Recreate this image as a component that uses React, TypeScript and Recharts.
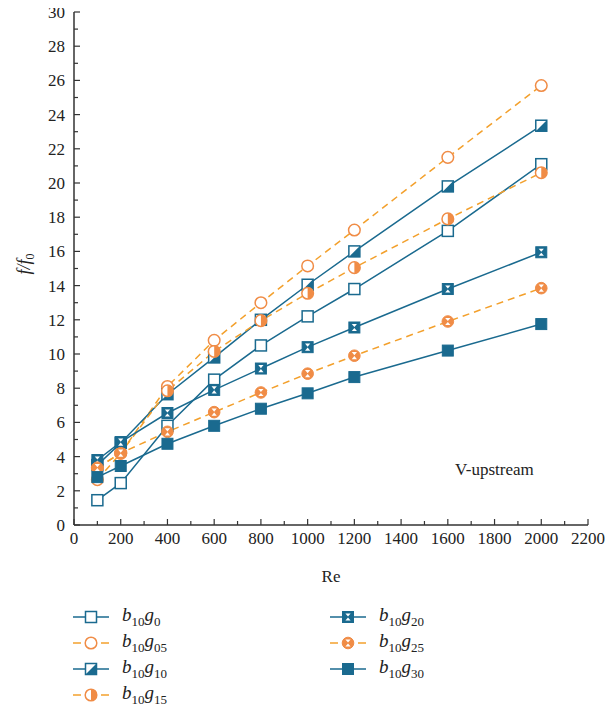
import React from "react";
import { LineChart, Line, XAxis, YAxis } from "recharts";

const RE = [100, 200, 400, 600, 800, 1000, 1200, 1600, 2000];

const B10G0 = [1.45, 2.45, 5.8, 8.5, 10.5, 12.2, 13.8, 17.2, 21.1];
const B10G05 = [2.65, 4.2, 8.1, 10.8, 13.0, 15.15, 17.25, 21.5, 25.7];
const B10G10 = [3.5, 4.8, 7.65, 9.8, 12.0, 14.05, 16.0, 19.8, 23.35];
const B10G15 = [3.35, 4.2, 7.85, 10.15, 11.95, 13.55, 15.05, 17.9, 20.6];
const B10G20 = [3.8, 4.85, 6.55, 7.9, 9.15, 10.4, 11.55, 13.8, 15.95];
const B10G25 = [3.35, 4.2, 5.45, 6.6, 7.75, 8.85, 9.9, 11.9, 13.85];
const B10G30 = [2.8, 3.45, 4.75, 5.8, 6.8, 7.7, 8.65, 10.2, 11.75];

const X_TICKS = [0, 100, 200, 300, 400, 500, 600, 700, 800, 900, 1000, 1100, 1200, 1300, 1400, 1500, 1600, 1700, 1800, 1900, 2000, 2100, 2200];
const Y_TICKS = [0, 1, 2, 3, 4, 5, 6, 7, 8, 9, 10, 11, 12, 13, 14, 15, 16, 17, 18, 19, 20, 21, 22, 23, 24, 25, 26, 27, 28, 29, 30];

const BLUE = "#1a6a8f";
const ORANGE_LINE = "#f3a02c";
const ORANGE_MARK = "#f08c46";
const AXIS = "#333";
const FONT = "'Liberation Serif', 'DejaVu Serif', serif";

type Kind = "openSq" | "openCirc" | "halfSq" | "halfCirc" | "hourSq" | "hourCirc" | "fillSq";

const SERIES: { key: string; sub: string; kind: Kind; values: number[]; dashed: boolean }[] = [
  { key: "g0", sub: "0", kind: "openSq", values: B10G0, dashed: false },
  { key: "g05", sub: "05", kind: "openCirc", values: B10G05, dashed: true },
  { key: "g10", sub: "10", kind: "halfSq", values: B10G10, dashed: false },
  { key: "g15", sub: "15", kind: "halfCirc", values: B10G15, dashed: true },
  { key: "g20", sub: "20", kind: "hourSq", values: B10G20, dashed: false },
  { key: "g25", sub: "25", kind: "hourCirc", values: B10G25, dashed: true },
  { key: "g30", sub: "30", kind: "fillSq", values: B10G30, dashed: false },
];

const data = RE.map((re, i) => {
  const row: Record<string, number> = { re };
  SERIES.forEach((s) => (row[s.key] = s.values[i]));
  return row;
});

function Marker({ kind, cx, cy }: { kind: Kind; cx: number; cy: number }) {
  const s = 11;
  const x = cx - s / 2;
  const y = cy - s / 2;
  const r = 5.8;
  const hour = (
    <>
      <polygon points={`${cx - 2.6},${cy - 3.6} ${cx + 2.6},${cy - 3.6} ${cx},${cy - 0.4}`} fill="#fff" />
      <polygon points={`${cx - 2.6},${cy + 3.6} ${cx + 2.6},${cy + 3.6} ${cx},${cy + 0.4}`} fill="#fff" />
    </>
  );
  switch (kind) {
    case "openSq":
      return <rect x={x} y={y} width={s} height={s} fill="#fff" stroke={BLUE} strokeWidth={1.5} />;
    case "fillSq":
      return <rect x={x} y={y} width={s} height={s} fill={BLUE} stroke={BLUE} strokeWidth={1} />;
    case "halfSq":
      return (
        <g>
          <rect x={x} y={y} width={s} height={s} fill="#fff" stroke={BLUE} strokeWidth={1.5} />
          <polygon points={`${x + s},${y} ${x + s},${y + s} ${x},${y + s}`} fill={BLUE} />
        </g>
      );
    case "hourSq":
      return (
        <g>
          <rect x={x} y={y} width={s} height={s} fill={BLUE} stroke={BLUE} strokeWidth={1} />
          {hour}
        </g>
      );
    case "openCirc":
      return <circle cx={cx} cy={cy} r={r} fill="#fff" stroke={ORANGE_MARK} strokeWidth={1.5} />;
    case "halfCirc":
      return (
        <g>
          <circle cx={cx} cy={cy} r={r} fill="#fff" stroke={ORANGE_MARK} strokeWidth={1.5} />
          <path d={`M${cx},${cy - r} A${r},${r} 0 0 1 ${cx},${cy + r} Z`} fill={ORANGE_MARK} />
        </g>
      );
    case "hourCirc":
      return (
        <g>
          <circle cx={cx} cy={cy} r={r} fill={ORANGE_MARK} stroke={ORANGE_MARK} strokeWidth={1} />
          {hour}
        </g>
      );
  }
}

function XTick(props: any) {
  const { x, y, payload } = props;
  const major = payload.value % 200 === 0;
  return (
    <g>
      <line x1={x} y1={y} x2={x} y2={y - (major ? 6 : 4)} stroke={AXIS} strokeWidth={1.2} />
      {major && (
        <text x={x} y={y + 19} textAnchor="middle" fontSize={17} style={{ fontFamily: FONT }} fill="#222">
          {payload.value}
        </text>
      )}
    </g>
  );
}

function YTick(props: any) {
  const { x, y, payload } = props;
  const major = payload.value % 2 === 0;
  return (
    <g>
      <line x1={x} y1={y} x2={x + (major ? 6 : 4)} y2={y} stroke={AXIS} strokeWidth={1.2} />
      {major && (
        <text x={x - 9} y={y + 6} textAnchor="end" fontSize={17} style={{ fontFamily: FONT }} fill="#222">
          {payload.value}
        </text>
      )}
    </g>
  );
}

function LegendItem({ s }: { s: (typeof SERIES)[number] }) {
  const color = s.dashed ? ORANGE_LINE : BLUE;
  return (
    <div style={{ display: "flex", alignItems: "center", height: 26 }}>
      <svg width={40} height={16}>
        {s.dashed ? (
          <>
            <line x1={2} y1={8} x2={10} y2={8} stroke={color} strokeWidth={1.5} />
            <line x1={30} y1={8} x2={38} y2={8} stroke={color} strokeWidth={1.5} />
          </>
        ) : (
          <line x1={2} y1={8} x2={38} y2={8} stroke={color} strokeWidth={1.5} />
        )}
        <Marker kind={s.kind} cx={20} cy={8} />
      </svg>
      <span style={{ marginLeft: 11, fontFamily: FONT, fontStyle: "italic", fontSize: 19, color: "#222" }}>
        b<sub style={{ fontStyle: "normal", fontSize: 13 }}>10</sub>g<sub style={{ fontStyle: "normal", fontSize: 13 }}>{s.sub}</sub>
      </span>
    </div>
  );
}

export default function App() {
  return (
    <div style={{ position: "relative", width: 600, height: 706, marginTop: -6, fontFamily: FONT }}>
      <LineChart width={600} height={606} data={data} margin={{ top: 10, right: 20, left: 0, bottom: 0 }}>
        <XAxis
          dataKey="re"
          type="number"
          domain={[0, 2200]}
          ticks={X_TICKS}
          interval={0}
          tickSize={0}
          tickMargin={0}
          tickLine={false}
          tick={<XTick />}
          height={83}
          stroke={AXIS}
          strokeWidth={1.5}
          label={{ value: "Re", position: "insideBottom", offset: 26, fontSize: 17, fontFamily: FONT, fill: "#222" }}
        />
        <XAxis xAxisId="top" orientation="top" dataKey="re" type="number" domain={[0, 2200]} tick={false} tickLine={false} height={0} stroke={AXIS} strokeWidth={1.5} />
        <YAxis
          type="number"
          domain={[0, 30]}
          ticks={Y_TICKS}
          interval={0}
          tickSize={0}
          tickMargin={0}
          tickLine={false}
          tick={<YTick />}
          width={66}
          stroke={AXIS}
          strokeWidth={1.5}
          label={{
            content: () => (
              <text transform="rotate(-90, 22, 262)" x={22} y={262} textAnchor="middle" style={{ fontFamily: FONT }} fontStyle="italic" fontSize={18} fill="#222">
                f/f<tspan fontSize={12} dy={4} fontStyle="normal">0</tspan>
              </text>
            ),
          }}
        />
        <YAxis yAxisId="right" orientation="right" type="number" domain={[0, 30]} tick={false} tickLine={false} width={0} stroke={AXIS} strokeWidth={1.5} />
        {SERIES.map((s) => (
          <Line
            key={s.key}
            type="linear"
            dataKey={s.key}
            stroke={s.dashed ? ORANGE_LINE : BLUE}
            strokeWidth={1.5}
            strokeDasharray={s.dashed ? "7 5" : undefined}
            isAnimationActive={false}
            dot={(p: any) => <Marker key={`${s.key}-${p.index}`} kind={s.kind} cx={p.cx} cy={p.cy} />}
            activeDot={false}
          />
        ))}
      </LineChart>
      <div style={{ position: "absolute", left: 447, top: 458, fontSize: 17, color: "#222" }}>V-upstream</div>
      <div style={{ position: "absolute", left: 63, top: 602 }}>
        {SERIES.slice(0, 4).map((s) => (
          <LegendItem key={s.key} s={s} />
        ))}
      </div>
      <div style={{ position: "absolute", left: 320, top: 602 }}>
        {SERIES.slice(4).map((s) => (
          <LegendItem key={s.key} s={s} />
        ))}
      </div>
    </div>
  );
}
